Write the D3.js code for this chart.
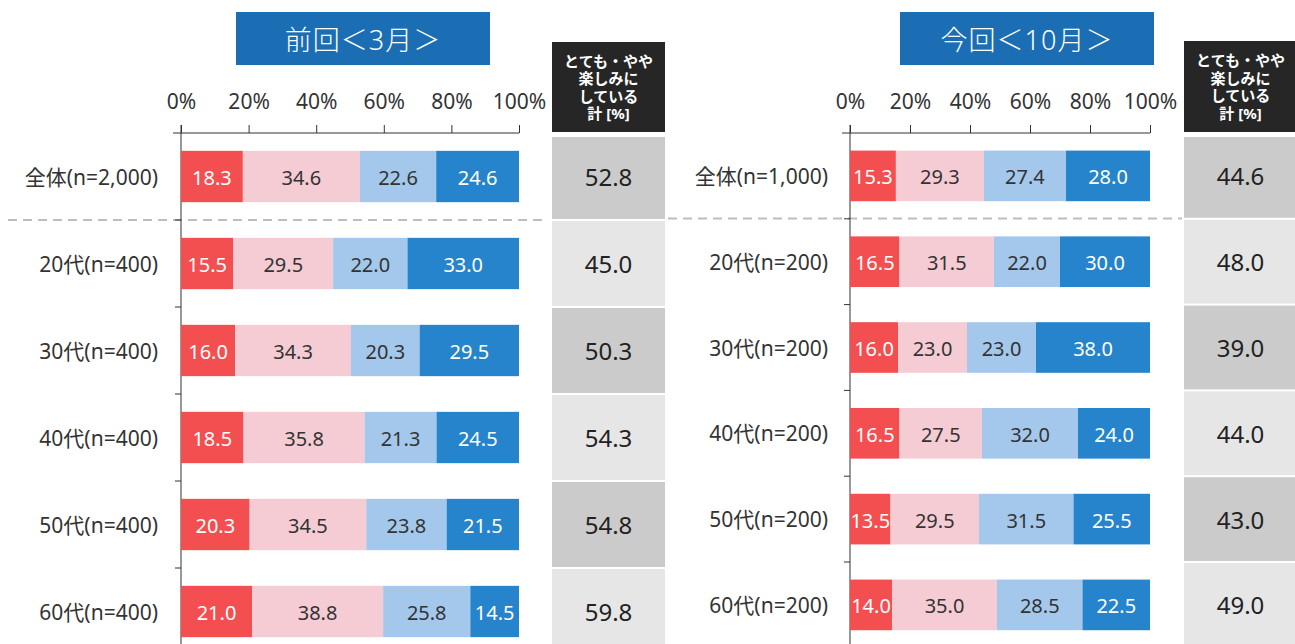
<!DOCTYPE html>
<html>
<head>
<meta charset="utf-8">
<script src="https://cdn.jsdelivr.net/npm/d3@7"></script>
<style>
    body { margin: 0; background: #fff; }
    svg { font-family: "Noto Sans", "Noto Sans CJK JP", sans-serif; }
</style>
</head>
<body>
<div id="chart"></div>
<script>

// categories per panel
let prevCats = ["全体(n=2,000)", "20代(n=400)", "30代(n=400)", "40代(n=400)", "50代(n=400)", "60代(n=400)"];
let currCats = ["全体(n=1,000)", "20代(n=200)", "30代(n=200)", "40代(n=200)", "50代(n=200)", "60代(n=200)"];

// 前回 <3月> series
let prevVery     = [18.3, 15.5, 16.0, 18.5, 20.3, 21.0];
let prevSomewhat = [34.6, 29.5, 34.3, 35.8, 34.5, 38.8];
let prevNotMuch  = [22.6, 22.0, 20.3, 21.3, 23.8, 25.8];
let prevNotAtAll = [24.6, 33.0, 29.5, 24.5, 21.5, 14.5];
let prevTotal    = [52.8, 45.0, 50.3, 54.3, 54.8, 59.8];

// 今回 <10月> series
let currVery     = [15.3, 16.5, 16.0, 16.5, 13.5, 14.0];
let currSomewhat = [29.3, 31.5, 23.0, 27.5, 29.5, 35.0];
let currNotMuch  = [27.4, 22.0, 23.0, 32.0, 31.5, 28.5];
let currNotAtAll = [28.0, 30.0, 38.0, 24.0, 25.5, 22.5];
let currTotal    = [44.6, 48.0, 39.0, 44.0, 43.0, 49.0];

let xTicks = [0, 20, 40, 60, 80, 100];
let headerLines = ["とても・やや", "楽しみに", "している", "計 [%]"];

let segColors = ["#f34e50", "#f5ccd4", "#a3c8ec", "#2584cb"];
let segText = ["#fff", "#333", "#333", "#fff"];

let svg = d3.select("#chart")
    .append("svg")
    .attr("width", 1295)
    .attr("height", 644);

// dashed separator under 全体
svg.append("line")
    .attr("x1", 8).attr("x2", 548)
    .attr("y1", 220).attr("y2", 220)
    .attr("stroke", "#bdbdbd").attr("stroke-width", 2)
    .attr("stroke-dasharray", "9,6");
svg.append("line")
    .attr("x1", 668).attr("x2", 1182)
    .attr("y1", 218.5).attr("y2", 218.5)
    .attr("stroke", "#bdbdbd").attr("stroke-width", 2)
    .attr("stroke-dasharray", "9,6");

function drawPanel(p) {

    let x = d3.scaleLinear()
        .domain([0, 100])
        .range([p.x0, p.x1]);

    let y = d3.scaleBand()
        .domain(p.cats)
        .range([p.top, p.top + p.cats.length * p.band])
        .paddingInner(0.41)
        .paddingOuter(0.205);

    let g = svg.append("g");

    // title box
    g.append("rect")
        .attr("x", p.tx0).attr("y", 12)
        .attr("width", p.tx1 - p.tx0).attr("height", 53)
        .attr("fill", "#1b6eb4");
    g.append("text")
        .attr("x", (p.tx0 + p.tx1) / 2).attr("y", 39)
        .attr("text-anchor", "middle")
        .attr("dominant-baseline", "central")
        .attr("fill", "#fff")
        .style("font-size", "27px")
        .style("font-weight", "300")
        .style("letter-spacing", "1px")
        .text(p.title);

    // top axis
    let axis = g.append("g")
        .attr("transform", "translate(0," + p.top + ")")
        .call(d3.axisTop(x).tickValues(xTicks).tickSize(8).tickSizeOuter(0).tickPadding(16)
            .tickFormat(d => d + "%"));
    axis.select(".domain").remove();
    axis.selectAll(".tick line").attr("stroke", "#333");
    axis.selectAll(".tick text")
        .attr("fill", "#333")
        .style("font-size", "21px")
        .style("font-family", "\"Noto Sans\", \"Noto Sans CJK JP\", sans-serif");

    g.append("line")
        .attr("x1", p.x0 - 8).attr("x2", x(100))
        .attr("y1", p.top).attr("y2", p.top)
        .attr("stroke", "#333");
    g.append("line")
        .attr("x1", p.x0).attr("x2", p.x0)
        .attr("y1", p.top - 8).attr("y2", 660)
        .attr("stroke", "#333");

    // category ticks between rows
    p.cats.slice(1).forEach(c => {
        let yy = y(c) - y.step() * 0.205;
        g.append("line")
            .attr("x1", p.x0 - 6).attr("x2", p.x0)
            .attr("y1", yy).attr("y2", yy)
            .attr("stroke", "#333");
    });

    // category labels
    g.selectAll(".cat")
        .data(p.cats)
        .enter()
        .append("text")
        .attr("x", p.labelX)
        .attr("y", d => y(d) + y.bandwidth() / 2)
        .attr("text-anchor", "end")
        .attr("dominant-baseline", "central")
        .attr("fill", "#333")
        .style("font-size", "21px")
        .text(d => d);

    // stacked segments
    p.series.forEach((s, k) => {
        let rows = p.cats.map((c, i) => {
            let start = 0;
            for (let j = 0; j < k; j++) start += p.series[j][i];
            return {cat: c, start: start, value: s[i]};
        });

        let seg = g.selectAll(".seg" + k)
            .data(rows)
            .enter()
            .append("g");

        seg.append("rect")
            .attr("x", d => x(d.start))
            .attr("y", d => y(d.cat))
            .attr("width", d => Math.min(x(d.start + d.value), x(100)) - x(d.start))
            .attr("height", y.bandwidth())
            .attr("fill", segColors[k]);

        seg.append("text")
            .attr("x", d => (x(d.start) + Math.min(x(d.start + d.value), x(100))) / 2)
            .attr("y", d => y(d.cat) + y.bandwidth() / 2 + 1)
            .attr("text-anchor", "middle")
            .attr("dominant-baseline", "central")
            .attr("fill", segText[k])
            .style("font-size", "20px")
            .text(d => d.value.toFixed(1));
    });

    // summary column header
    g.append("rect")
        .attr("x", p.sx0).attr("y", p.hy0)
        .attr("width", p.sx1 - p.sx0).attr("height", 132 - p.hy0)
        .attr("fill", "#262626");
    let hy = (p.hy0 + 132) / 2 - 1.5 * 17.5;
    headerLines.forEach((t, i) => {
        g.append("text")
            .attr("x", (p.sx0 + p.sx1) / 2)
            .attr("y", hy + i * 17.5)
            .attr("text-anchor", "middle")
            .attr("dominant-baseline", "central")
            .attr("fill", "#fff")
            .style("font-size", "15px")
            .style("font-weight", "bold")
            .text(t);
    });

    // summary cells
    let cells = g.selectAll(".cell")
        .data(p.cats)
        .enter()
        .append("g");

    cells.append("rect")
        .attr("x", p.sx0)
        .attr("y", (d, i) => Math.max(y(d) - y.step() * 0.205 + 1, 137))
        .attr("width", p.sx1 - p.sx0)
        .attr("height", (d, i) => {
            let top = Math.max(y(d) - y.step() * 0.205 + 1, 137);
            return y(d) - y.step() * 0.205 + y.step() - 1 - top;
        })
        .attr("fill", (d, i) => i % 2 === 0 ? "#cbcbcb" : "#e6e6e6");

    cells.append("text")
        .attr("x", (p.sx0 + p.sx1) / 2)
        .attr("y", d => y(d) + y.bandwidth() / 2)
        .attr("text-anchor", "middle")
        .attr("dominant-baseline", "central")
        .attr("fill", "#222")
        .style("font-size", "24px")
        .text((d, i) => p.total[i].toFixed(1));
}

drawPanel({
    title: "前回＜3月＞", cats: prevCats,
    series: [prevVery, prevSomewhat, prevNotMuch, prevNotAtAll], total: prevTotal,
    x0: 181, x1: 519, top: 133, band: 87, labelX: 158,
    tx0: 236, tx1: 490, sx0: 552, sx1: 665, hy0: 42
});

drawPanel({
    title: "今回＜10月＞", cats: currCats,
    series: [currVery, currSomewhat, currNotMuch, currNotAtAll], total: currTotal,
    x0: 850, x1: 1150, top: 133, band: 85.8, labelX: 828,
    tx0: 900, tx1: 1154, sx0: 1184, sx1: 1297, hy0: 41
});

</script>
</body>
</html>
